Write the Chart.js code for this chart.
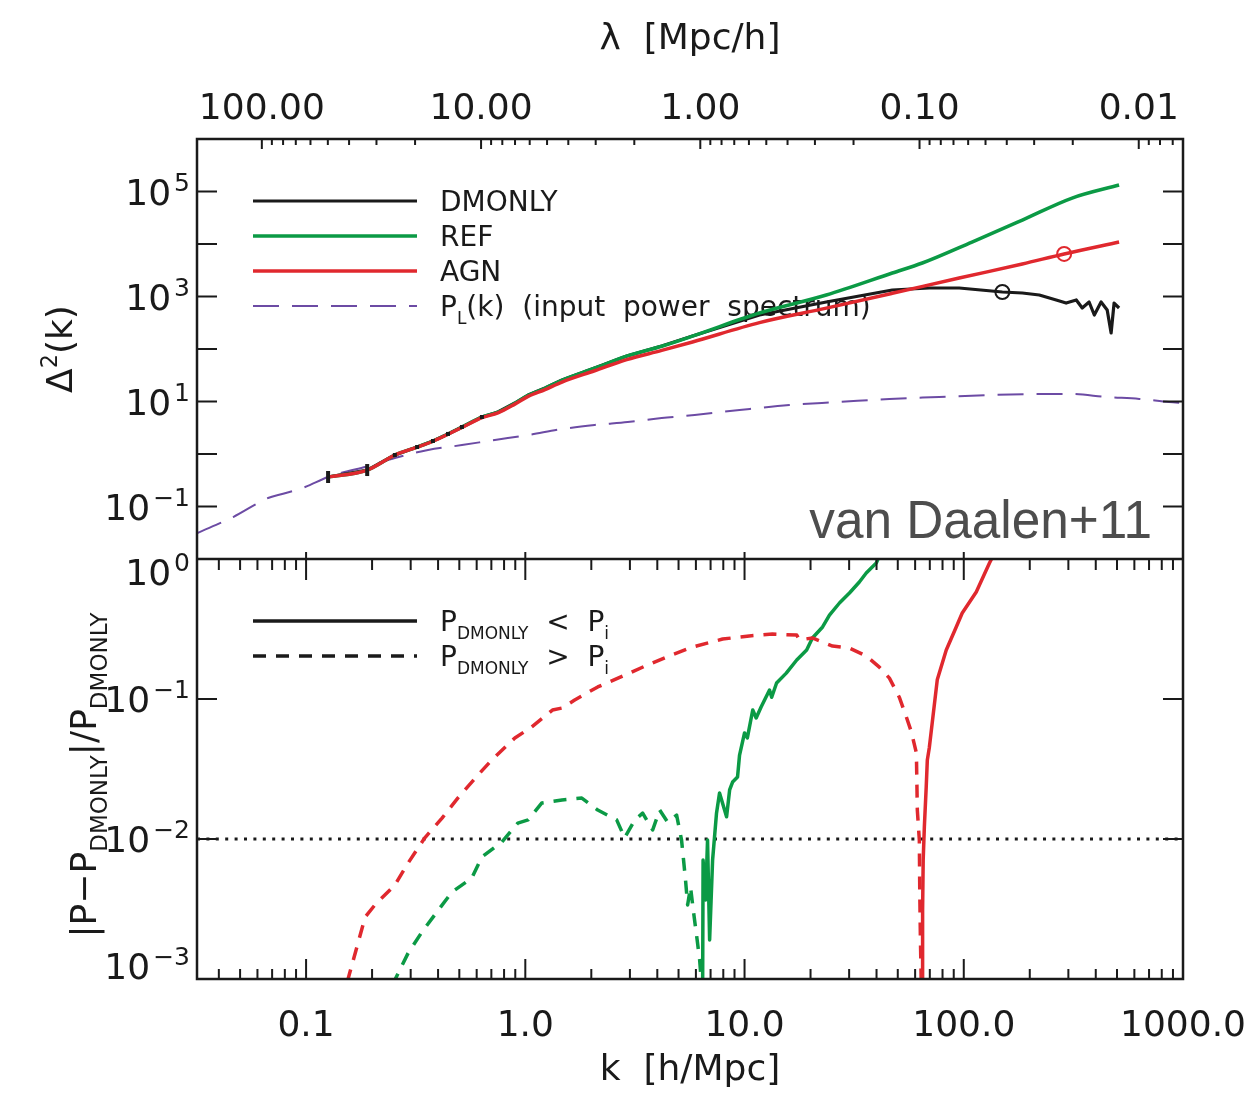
<!DOCTYPE html>
<html>
<head>
<meta charset="utf-8">
<title>Matter power spectrum - van Daalen+11</title>
<script src="https://cdn.jsdelivr.net/npm/chart.js@4.4.1/dist/chart.umd.min.js"></script>
<style>
  html, body { margin: 0; padding: 0; background: #fff; }
  #chart { display: block; }
</style>
</head>
<body>
<canvas id="chart" width="1253" height="1093"></canvas>
<script>
/* =========================================
   DATA
   ========================================= */
const K_MIN = 0.0318;
const K_MAX = 1000;
const K_TICKS = [0.1, 1, 10, 100, 1000];
const K_TICK_LABELS = ['0.1', '1.0', '10.0', '100.0', '1000.0'];
const LAMBDA_TICKS = [100, 10, 1, 0.1, 0.01];
const LAMBDA_TICK_LABELS = ['100.00', '10.00', '1.00', '0.10', '0.01'];
const TOP_Y_EXP = [5, 3, 1, -1];
const BOT_Y_EXP = [0, -1, -2, -3];

// top panel: Delta^2(k)
const PL_K = [0.0319, 0.0465, 0.0671, 0.0778, 0.099, 0.126, 0.2, 0.254, 0.36, 0.514, 0.726, 1.03, 1.47, 2.07, 2.93, 4.19, 5.92, 9.49, 16.0, 27.1, 45.8, 77.3, 131, 221, 312, 446, 631, 864, 1000];
const PL_D = [0.0313, 0.063, 0.145, 0.173, 0.235, 0.364, 0.617, 0.84, 1.19, 1.48, 1.85, 2.30, 2.99, 3.57, 4.07, 4.85, 5.53, 6.89, 8.57, 9.78, 11.2, 12.2, 13.3, 13.9, 13.9, 12.2, 11.2, 9.78, 9.35];

const DM_K = [0.126, 0.190, 0.254, 0.321, 0.379, 0.444, 0.514, 0.634, 0.750, 0.896, 1.03, 1.23, 1.47, 2.07, 2.90, 4.19, 5.79, 11.7, 23.6, 47.2, 69.6, 95.3, 150, 185, 221, 264, 293, 326, 347, 373, 394, 423, 451, 470, 485, 511];
const DM_D = [0.365, 0.495, 0.957, 1.36, 1.77, 2.41, 3.27, 5.07, 6.31, 9.36, 13.3, 18.1, 25.7, 43.5, 73.6, 114, 177, 444, 786, 1330, 1452, 1452, 1219, 1167, 1069, 858, 751, 858, 604, 786, 444, 786, 553, 202, 751, 604];

const REF_K = [0.126, 0.190, 0.254, 0.321, 0.379, 0.444, 0.514, 0.634, 0.750, 0.896, 1.03, 1.23, 1.47, 2.07, 2.90, 4.19, 5.79, 11.7, 23.6, 47.2, 64.7, 109, 185, 312, 511];
const REF_D = [0.365, 0.495, 0.955, 1.355, 1.765, 2.40, 3.25, 5.03, 6.25, 9.25, 13.1, 17.9, 25.4, 43.0, 72.9, 113, 176, 485, 1069, 2805, 4345, 10900, 28600, 75100, 133000];

const AGN_K = [0.126, 0.190, 0.254, 0.321, 0.379, 0.444, 0.514, 0.634, 0.750, 0.896, 1.03, 1.23, 1.47, 2.07, 2.90, 4.19, 5.79, 11.7, 23.6, 47.2, 95.3, 185, 287, 511];
const AGN_D = [0.365, 0.495, 0.955, 1.35, 1.75, 2.38, 3.2, 4.92, 6.07, 8.9, 12.5, 16.9, 23.5, 38.5, 62.7, 94, 136, 318, 600, 1150, 2250, 4160, 6460, 10900];

// circled points on the DMONLY and AGN curves [k, Delta^2]
const MARK_DM = [150, 1219];
const MARK_AGN = [287, 6460];
const DM_BIN_COUNT = 8; // first DMONLY bins shown with error-bar marks

// bottom panel: |P - P_DMONLY| / P_DMONLY
const AGN_LO_K = [0.154, 0.186, 0.206, 0.254, 0.292, 0.348, 0.417, 0.492, 0.608, 0.703, 0.896, 1.07, 1.33, 1.47, 1.68, 2.14, 2.84, 3.61, 4.65, 5.79, 7.94, 10.5, 13.4, 17.3, 17.8, 20.4, 25.2, 30.1, 35.9, 41.2, 45.8, 50.8, 54.7, 57.7, 60.8, 61.4, 62.7, 63.0, 63.4, 64.0];
const AGN_LO_R = [0.00095, 0.00277, 0.00338, 0.00469, 0.00674, 0.0102, 0.0141, 0.0196, 0.0286, 0.0367, 0.0527, 0.0631, 0.0834, 0.0862, 0.0984, 0.122, 0.148, 0.175, 0.206, 0.235, 0.268, 0.282, 0.291, 0.286, 0.264, 0.273, 0.239, 0.231, 0.203, 0.169, 0.141, 0.103, 0.0744, 0.0581, 0.0411, 0.0161, 0.00984, 0.00411, 0.002, 0.0009];

const AGN_HI_K = [64.7, 64.9, 65.3, 66.1, 67.4, 68.2, 69.6, 75.7, 83.2, 92.4, 98.4, 114, 131, 138];
const AGN_HI_R = [0.0009, 0.00311, 0.00708, 0.0122, 0.0235, 0.0367, 0.0447, 0.137, 0.224, 0.327, 0.411, 0.581, 0.936, 1.1];

const REF_LO_K = [0.247, 0.292, 0.338, 0.395, 0.463, 0.570, 0.634, 0.782, 0.924, 1.03, 1.19, 1.47, 1.81, 2.14, 2.61, 2.84, 3.16, 3.43, 3.81, 4.10, 4.46, 4.90, 5.16, 5.27, 5.38, 5.50, 5.67, 5.86, 6.04, 6.24, 6.37];
const REF_LO_R = [0.0009, 0.00153, 0.00217, 0.00301, 0.00418, 0.00526, 0.00744, 0.00952, 0.0130, 0.0137, 0.0181, 0.0190, 0.0196, 0.0161, 0.0137, 0.0102, 0.0137, 0.0153, 0.0116, 0.0161, 0.0132, 0.0148, 0.00984, 0.00708, 0.00509, 0.00338, 0.00454, 0.00296, 0.00206, 0.00137, 0.0009];

const REF_HI_K = [6.44, 6.47, 6.64, 6.78, 6.93, 7.15, 7.45, 7.69, 8.28, 8.55, 8.82, 9.29, 9.49, 10.0, 10.3, 10.9, 11.3, 11.9, 13.0, 13.3, 14.0, 15.5, 17.3, 19.2, 20.4, 22.7, 24.4, 27.1, 30.1, 33.4, 35.9, 39.9, 41.2];
const REF_HI_R = [0.0009, 0.00708, 0.00367, 0.00984, 0.0019, 0.00708, 0.0153, 0.0213, 0.0144, 0.0224, 0.0255, 0.0277, 0.0398, 0.0572, 0.0527, 0.0834, 0.0732, 0.0877, 0.116, 0.103, 0.130, 0.153, 0.190, 0.224, 0.273, 0.327, 0.398, 0.485, 0.572, 0.685, 0.794, 0.936, 1.05];

const LEVEL_1PC = 0.01;

/* =========================================
   STYLE
   ========================================= */
const FONT = '"DejaVu Sans", "Liberation Sans", sans-serif';
const INK = '#1a1a1a';
const GREEN = '#0b9a45';
const RED = '#e0282e';
const PURPLE = '#6c4ba4';
const DASH_LO = [13, 10];

const pts = (ks, vs) => ks.map((k, i) => ({ x: k, y: vs[i] }));

/* =========================================
   DATASETS
   ========================================= */
const datasets = [
    // ---- top panel ----
    {
        label: 'P_L', data: pts(PL_K, PL_D), yAxisID: 'yTop', order: 9,
        borderColor: PURPLE, borderWidth: 2, borderDash: [26, 13], cubicInterpolationMode: 'monotone'
    },
    {
        label: 'DMONLY', data: pts(DM_K, DM_D), yAxisID: 'yTop', order: 8,
        borderColor: INK, borderWidth: 3.2, tension: 0
    },
    {
        label: 'REF', data: pts(REF_K, REF_D), yAxisID: 'yTop', order: 7,
        borderColor: GREEN, borderWidth: 3.5, cubicInterpolationMode: 'monotone'
    },
    {
        label: 'AGN', data: pts(AGN_K, AGN_D), yAxisID: 'yTop', order: 6,
        borderColor: RED, borderWidth: 3.5, cubicInterpolationMode: 'monotone'
    },
    {
        label: 'DMONLY bins', data: pts(DM_K.slice(0, DM_BIN_COUNT), DM_D.slice(0, DM_BIN_COUNT)), yAxisID: 'yTop', order: 2,
        showLine: false, pointStyle: 'line', pointRotation: 90,
        pointRadius: [6, 6, 2, 2, 2, 2, 2, 2], pointBorderWidth: 4, pointBorderColor: INK
    },
    {
        label: 'mark DMONLY', data: [{ x: MARK_DM[0], y: MARK_DM[1] }], yAxisID: 'yTop', order: 1,
        showLine: false, pointStyle: 'circle', pointRadius: 7, pointBorderWidth: 2,
        pointBorderColor: INK, pointBackgroundColor: 'rgba(0,0,0,0)'
    },
    {
        label: 'mark AGN', data: [{ x: MARK_AGN[0], y: MARK_AGN[1] }], yAxisID: 'yTop', order: 1,
        showLine: false, pointStyle: 'circle', pointRadius: 7, pointBorderWidth: 2,
        pointBorderColor: RED, pointBackgroundColor: 'rgba(0,0,0,0)'
    },
    // ---- bottom panel ----
    {
        label: '1 per cent', data: pts([K_MIN, K_MAX], [LEVEL_1PC, LEVEL_1PC]), yAxisID: 'yBot', order: 10,
        borderColor: INK, borderWidth: 3, borderDash: [3, 6.4]
    },
    {
        label: 'REF low', data: pts(REF_LO_K, REF_LO_R), yAxisID: 'yBot', order: 5,
        borderColor: GREEN, borderWidth: 3.5, borderDash: DASH_LO
    },
    {
        label: 'REF high', data: pts(REF_HI_K, REF_HI_R), yAxisID: 'yBot', order: 5,
        borderColor: GREEN, borderWidth: 3.5
    },
    {
        label: 'AGN low', data: pts(AGN_LO_K, AGN_LO_R), yAxisID: 'yBot', order: 4,
        borderColor: RED, borderWidth: 3.5, borderDash: DASH_LO
    },
    {
        label: 'AGN high', data: pts(AGN_HI_K, AGN_HI_R), yAxisID: 'yBot', order: 4,
        borderColor: RED, borderWidth: 3.5
    }
];
datasets.forEach(d => {
    d.xAxisID = 'x';
    d.fill = false;
    d.borderJoinStyle = 'round';
    if (d.pointRadius === undefined) d.pointRadius = 0;
});

/* =========================================
   DRAW HELPERS
   ========================================= */
// rich text: parts = [{t, sub|sup}]
function richWidth(ctx, parts, size) {
    let w = 0;
    parts.forEach(p => {
        const s = p.sub ? p.size || size * 0.62 : p.sup ? size * 0.62 : size;
        ctx.font = `${s}px ${FONT}`;
        w += ctx.measureText(p.t).width + (p.gap || 0);
    });
    return w;
}
function drawRich(ctx, x, y, parts, size) {
    ctx.textAlign = 'left';
    ctx.textBaseline = 'alphabetic';
    parts.forEach(p => {
        const s = p.sub ? p.size || size * 0.62 : p.sup ? size * 0.62 : size;
        const dy = p.sub ? size * 0.3 : p.sup ? -size * 0.42 : 0;
        ctx.font = `${s}px ${FONT}`;
        ctx.fillText(p.t, x, y + dy);
        x += ctx.measureText(p.t).width + (p.gap || 0);
    });
    return x;
}

function drawPow10(ctx, xRight, y, exp) {
    const base = '10';
    const sup = exp < 0 ? '\u2212' + (-exp) : String(exp);
    ctx.textAlign = 'left';
    ctx.textBaseline = 'alphabetic';
    ctx.font = `36px ${FONT}`;
    const wb = ctx.measureText(base).width;
    ctx.font = `25px ${FONT}`;
    const ws = ctx.measureText(sup).width;
    const x0 = xRight - ws - wb - 3;
    ctx.font = `36px ${FONT}`;
    ctx.fillText(base, x0, y + 13);
    ctx.font = `25px ${FONT}`;
    ctx.fillText(sup, x0 + wb + 3, y - 1);
}

function minorValues(lo, hi) {
    const out = [];
    for (let d = -4; d <= 3; d++) {
        for (let m = 2; m <= 9; m++) {
            const v = m * Math.pow(10, d);
            if (v > lo && v < hi) out.push(v);
        }
    }
    return out;
}

function legendLine(ctx, x0, x1, y, color, width, dash) {
    ctx.save();
    ctx.strokeStyle = color;
    ctx.lineWidth = width;
    ctx.setLineDash(dash || []);
    ctx.beginPath();
    ctx.moveTo(x0, y);
    ctx.lineTo(x1, y);
    ctx.stroke();
    ctx.restore();
}

/* =========================================
   PLUGIN: frame, ticks, labels, legends
   ========================================= */
const figureDecor = {
    id: 'figureDecor',
    beforeDatasetsDraw(chart) {
        const { ctx, chartArea: a, scales } = chart;
        const byLabel = l => chart.data.datasets.find(d => d.label === l);
        ctx.save();
        ctx.fillStyle = INK;

        // top legend
        const lx0 = a.left + 56, lx1 = a.left + 220, tx = a.left + 243;
        const rows = [
            { ds: byLabel('DMONLY'), parts: [{ t: 'DMONLY' }] },
            { ds: byLabel('REF'), parts: [{ t: 'REF' }] },
            { ds: byLabel('AGN'), parts: [{ t: 'AGN' }] },
            { ds: byLabel('P_L'), parts: [{ t: 'P' }, { t: 'L', sub: true, size: 17 }, { t: '(k)  (input  power  spectrum)' }] }
        ];
        rows.forEach((r, i) => {
            const y = a.top + 62 + i * 35;
            legendLine(ctx, lx0, lx1, y, r.ds.borderColor, r.ds.borderWidth, r.ds.borderDash);
            drawRich(ctx, tx, y + 10, r.parts, 28);
        });

        // bottom legend
        const yb = scales.yBot.top;
        const sub = { t: 'DMONLY', sub: true, size: 17 };
        legendLine(ctx, lx0, lx1, yb + 62, INK, 3.5, []);
        drawRich(ctx, tx, yb + 72, [{ t: 'P' }, sub, { t: '  <  P' }, { t: 'i', sub: true, size: 17 }], 28);
        legendLine(ctx, lx0, lx1, yb + 97, INK, 3.5, DASH_LO);
        drawRich(ctx, tx, yb + 107, [{ t: 'P' }, sub, { t: '  >  P' }, { t: 'i', sub: true, size: 17 }], 28);

        // attribution
        ctx.save();
        ctx.fillStyle = '#4d4d4d';
        ctx.font = `54px "Liberation Sans", Arial, sans-serif`;
        ctx.textAlign = 'right';
        ctx.textBaseline = 'alphabetic';
        ctx.translate(a.right - 31, scales.yTop.bottom - 21);
        ctx.scale(0.95, 1);
        ctx.fillText('van Daalen+11', 0, 0);
        ctx.restore();
        ctx.restore();
    },
    afterDraw(chart) {
        const { ctx, chartArea: a, scales } = chart;
        const { x, xTop, yTop, yBot } = scales;
        ctx.save();
        ctx.strokeStyle = INK;
        ctx.fillStyle = INK;
        ctx.lineWidth = 2.5;
        ctx.setLineDash([]);

        // frame and panel divider
        ctx.strokeRect(a.left, a.top, a.right - a.left, a.bottom - a.top);
        ctx.beginPath();
        ctx.moveTo(a.left, yBot.top);
        ctx.lineTo(a.right, yBot.top);
        ctx.stroke();

        const vtick = (px, y0, y1) => { ctx.moveTo(px, y0); ctx.lineTo(px, y1); };
        const htick = (py, len) => {
            ctx.moveTo(a.left, py); ctx.lineTo(a.left + len, py);
            ctx.moveTo(a.right, py); ctx.lineTo(a.right - len, py);
        };

        ctx.lineWidth = 2;
        ctx.beginPath();
        // k ticks on the divider and on the bottom edge
        K_TICKS.filter(v => v < K_MAX).forEach(v => {
            const px = x.getPixelForValue(v);
            vtick(px, yBot.top - 7, yBot.top + 21);
            vtick(px, a.bottom, a.bottom - 20);
        });
        minorValues(K_MIN, K_MAX).forEach(v => {
            const px = x.getPixelForValue(v);
            vtick(px, yBot.top, yBot.top + 11);
            vtick(px, a.bottom, a.bottom - 10);
        });
        // lambda ticks on the top edge
        LAMBDA_TICKS.forEach(v => vtick(xTop.getPixelForValue(v), a.top, a.top + 10));
        minorValues(xTop.min, xTop.max).forEach(v => vtick(xTop.getPixelForValue(v), a.top, a.top + 6));
        // y ticks, both sides
        for (let e = -1; e <= 5; e++) htick(yTop.getPixelForValue(Math.pow(10, e)), 20);
        for (let e = -2; e <= -1; e++) htick(yBot.getPixelForValue(Math.pow(10, e)), 20);
        ctx.stroke();

        // y tick labels
        TOP_Y_EXP.forEach(e => drawPow10(ctx, a.left - 7, yTop.getPixelForValue(Math.pow(10, e)), e));
        BOT_Y_EXP.forEach(e => {
            let py = yBot.getPixelForValue(Math.pow(10, e));
            if (e === 0) py += 13;
            if (e === -3) py -= 13;
            drawPow10(ctx, a.left - 7, py, e);
        });

        // y axis titles (rotated)
        const yTitle = (cx, cy, parts, size) => {
            ctx.save();
            ctx.translate(cx, cy);
            ctx.rotate(-Math.PI / 2);
            const w = richWidth(ctx, parts, size);
            drawRich(ctx, -w / 2, 0, parts, size);
            ctx.restore();
        };
        yTitle(72, (yTop.top + yTop.bottom) / 2, [{ t: '\u0394' }, { t: '2', sup: true }, { t: '(k)' }], 36);
        yTitle(96, (yBot.top + yBot.bottom) / 2 + 6,
            [{ t: '|P\u2212P' }, { t: 'DMONLY', sub: true, size: 23 }, { t: '|/P' }, { t: 'DMONLY', sub: true, size: 23 }], 36);
        ctx.restore();
    }
};

/* =========================================
   CHART
   ========================================= */
const tickFont = { family: FONT, size: 36 };
const titleFont = { family: FONT, size: 36, lineHeight: 1 };
const labelFor = (vals, labels) => v => {
    const i = vals.findIndex(t => Math.abs(Math.log10(t) - Math.log10(v)) < 1e-6);
    return i >= 0 ? labels[i] : '';
};

new Chart(document.getElementById('chart'), {
    type: 'line',
    data: { datasets },
    options: {
        responsive: false,
        animation: false,
        devicePixelRatio: 1,
        layout: { padding: { left: 0, right: 70, top: 0, bottom: 0 } },
        plugins: { legend: { display: false }, tooltip: { enabled: false } },
        elements: { line: { borderCapStyle: 'butt' } },
        scales: {
            x: {
                type: 'logarithmic', axis: 'x', position: 'bottom', min: K_MIN, max: K_MAX,
                grid: { display: false, drawTicks: false }, border: { display: false },
                ticks: { font: tickFont, color: INK, padding: 26, maxRotation: 0, autoSkip: false, callback: labelFor(K_TICKS, K_TICK_LABELS) },
                afterBuildTicks: s => { s.ticks = K_TICKS.map(v => ({ value: v })); },
                afterFit: s => { s.height = 114; s.paddingLeft = 0; s.paddingRight = 0; },
                title: { display: true, text: 'k  [h/Mpc]', font: titleFont, color: INK, padding: { top: 0, bottom: 4 } }
            },
            xTop: {
                type: 'logarithmic', axis: 'x', position: 'top', reverse: true,
                min: 2 * Math.PI / K_MAX, max: 2 * Math.PI / K_MIN,
                grid: { display: false, drawTicks: false }, border: { display: false },
                ticks: { font: tickFont, color: INK, padding: 8, maxRotation: 0, autoSkip: false, callback: labelFor(LAMBDA_TICKS, LAMBDA_TICK_LABELS) },
                afterBuildTicks: s => { s.ticks = LAMBDA_TICKS.map(v => ({ value: v })); },
                afterFit: s => { s.height = 139; s.paddingLeft = 0; s.paddingRight = 0; },
                title: { display: true, text: '\u03bb  [Mpc/h]', font: titleFont, color: INK, padding: { top: 22, bottom: 0 } }
            },
            yTop: {
                type: 'logarithmic', axis: 'y', position: 'left', stack: 'panels', stackWeight: 1, weight: 1,
                min: 1e-2, max: 1e6,
                grid: { display: false, drawTicks: false }, border: { display: false },
                ticks: { display: false },
                afterFit: s => { s.width = 197; }
            },
            yBot: {
                type: 'logarithmic', axis: 'y', position: 'left', stack: 'panels', stackWeight: 1, weight: 0,
                min: 1e-3, max: 1,
                grid: { display: false, drawTicks: false }, border: { display: false },
                ticks: { display: false },
                afterFit: s => { s.width = 197; }
            }
        }
    },
    plugins: [figureDecor]
});
</script>
</body>
</html>
